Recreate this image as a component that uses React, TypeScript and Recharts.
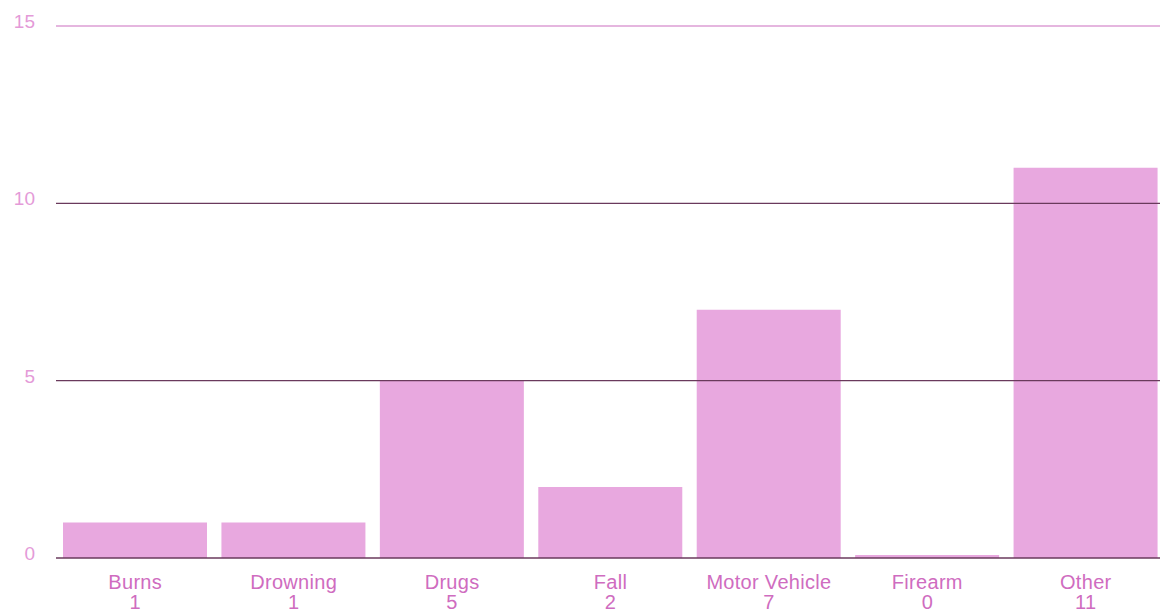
import { BarChart, Bar, XAxis, YAxis, ReferenceLine } from "recharts";

const categories = ["Burns", "Drowning", "Drugs", "Fall", "Motor Vehicle", "Firearm", "Other"];
const counts = [1, 1, 5, 2, 7, 0, 11];
const yTicks = [0, 5, 10, 15];

const BAR_COLOR = "#e8a8df";
const LABEL_COLOR = "#cf6cc0";
const Y_LABEL_COLOR = "#e49ad8";
const DARK_LINE = "#6a3a5c";
const TOP_LINE = "#dc9ed4";
const FONT = "'Liberation Sans', Arial, sans-serif";

const data = categories.map((name, i) => ({ name, count: counts[i] }));

// category name with its count underneath
function CategoryTick(props: any) {
  const { x, y, payload, index } = props;
  return (
    <text
      x={x}
      y={y}
      textAnchor="middle"
      fill={LABEL_COLOR}
      fontSize={20}
      letterSpacing={0.3}
      fontFamily={FONT}
    >
      <tspan x={x} dy={29}>{payload.value}</tspan>
      <tspan x={x} dy={20}>{counts[index]}</tspan>
    </text>
  );
}

function ValueTick(props: any) {
  const { y, payload } = props;
  return (
    <text x={35} y={y + 2} textAnchor="end" fill={Y_LABEL_COLOR} fontSize={19} fontFamily={FONT}>
      {payload.value}
    </text>
  );
}

export default function App() {
  return (
    <div
      style={{
        position: "absolute",
        left: 0,
        top: 0,
        width: 1160,
        height: 612,
        overflow: "hidden",
        background: "#fff",
      }}
    >
      <BarChart
        width={1165}
        height={612}
        data={data}
        margin={{ top: 26, right: 0, bottom: 0, left: 0 }}
        barCategoryGap={7}
      >
        <XAxis
          dataKey="name"
          height={54}
          axisLine={false}
          tickLine={false}
          tickSize={0}
          interval={0}
          tick={<CategoryTick />}
        />
        <YAxis
          width={56}
          domain={[0, 15]}
          ticks={yTicks}
          axisLine={false}
          tickLine={false}
          tickSize={0}
          tick={<ValueTick />}
        />
        <ReferenceLine y={15} stroke={TOP_LINE} strokeWidth={1.5} />
        <ReferenceLine y={10} stroke={DARK_LINE} strokeWidth={1.2} />
        <ReferenceLine y={5} stroke={DARK_LINE} strokeWidth={1.2} />
        <ReferenceLine y={0} stroke={DARK_LINE} strokeWidth={1.5} />
        <Bar dataKey="count" fill={BAR_COLOR} minPointSize={3} isAnimationActive={false} />
      </BarChart>
    </div>
  );
}
